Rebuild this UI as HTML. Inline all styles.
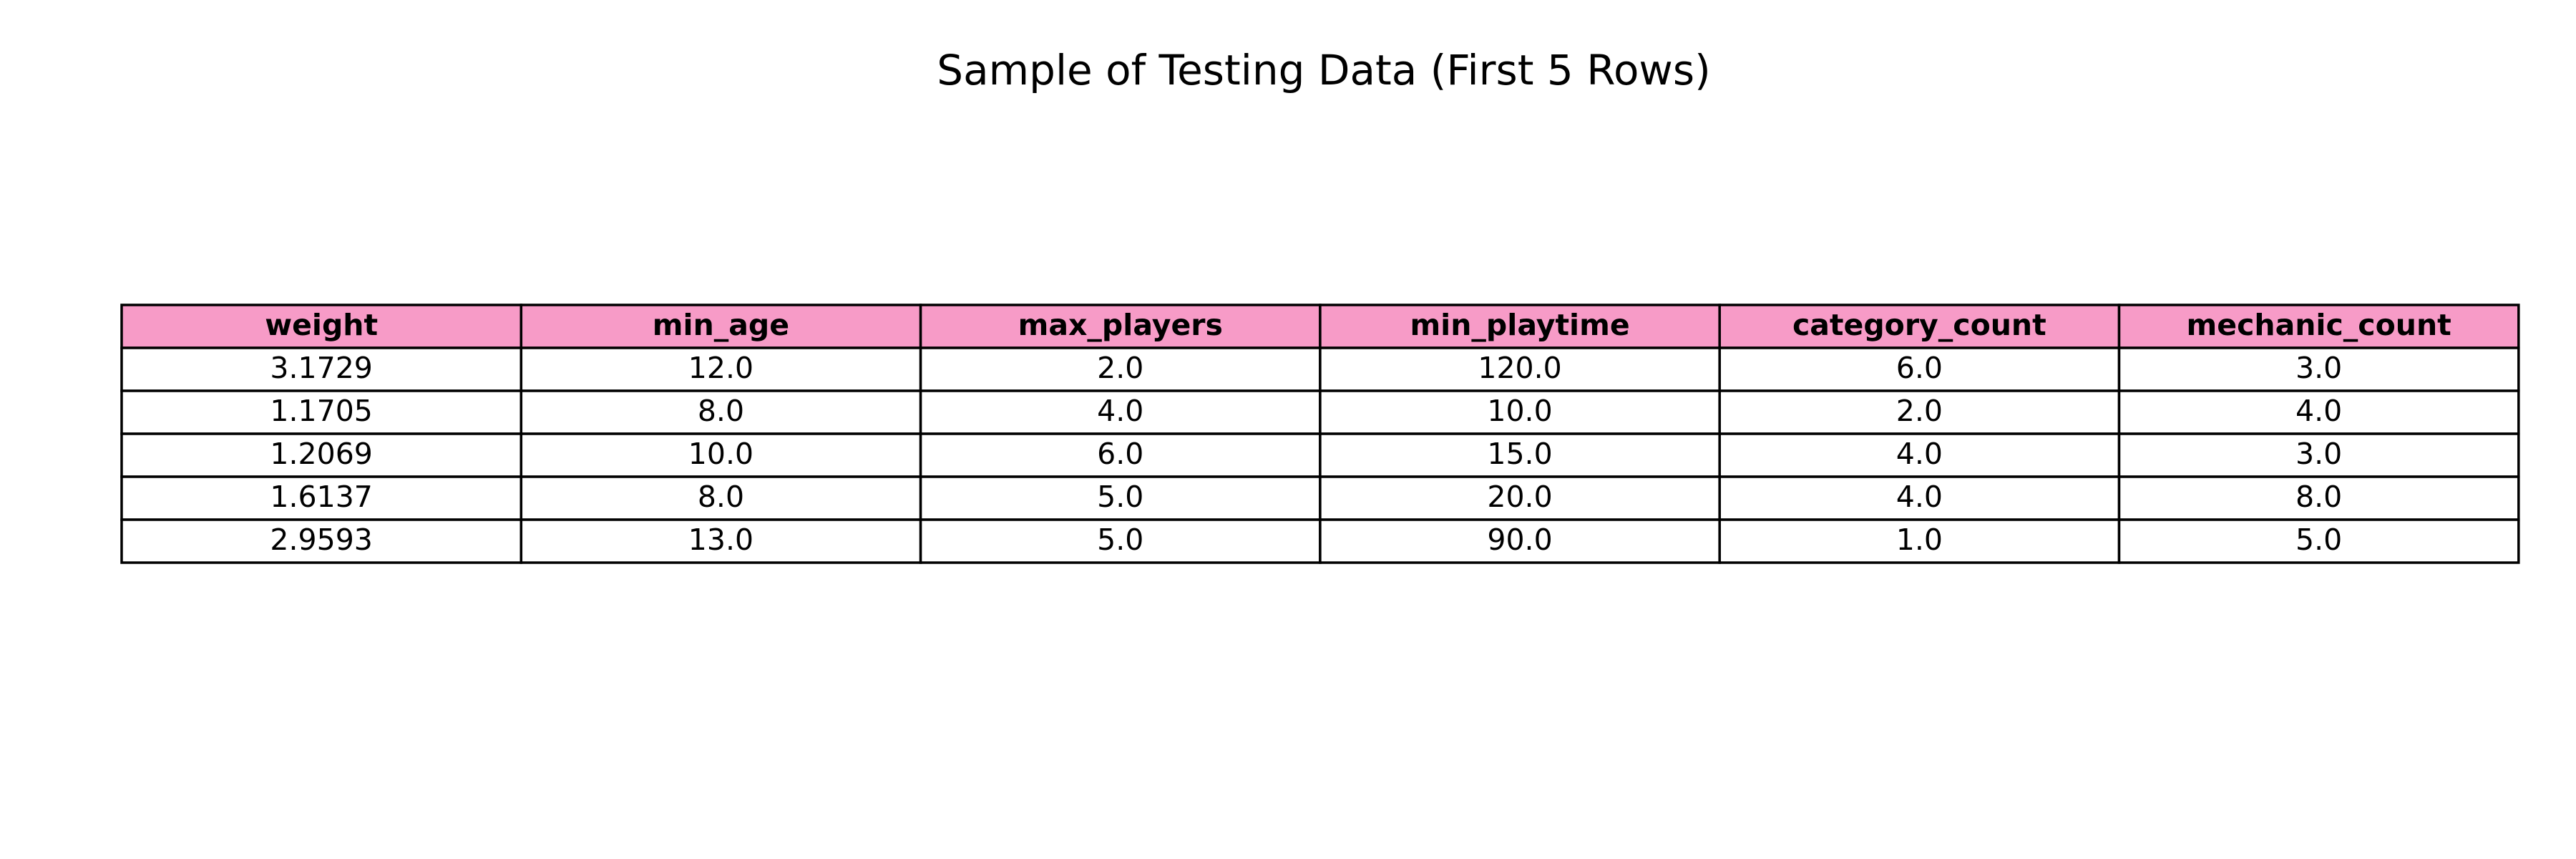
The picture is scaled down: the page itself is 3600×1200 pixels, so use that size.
<!DOCTYPE html>
<html><head><meta charset="utf-8"><style>
html,body{margin:0;padding:0;background:#fff;}
svg{display:block;font-family:"DejaVu Sans","Liberation Sans",sans-serif;}
</style></head><body>
<svg id="chart" width="3600" height="1200" viewBox="0 0 3600 1200" xmlns="http://www.w3.org/2000/svg">
<rect width="3600" height="1200" fill="#fff"/>
<text x="1850" y="118" text-anchor="middle" font-size="58" fill="#000">Sample of Testing Data (First 5 Rows)</text>
<g id="tbl"></g>
</svg>
<script>
const columns = ["weight","min_age","max_players","min_playtime","category_count","mechanic_count"];
const row1 = ["3.1729","12.0","2.0","120.0","6.0","3.0"];
const row2 = ["1.1705","8.0","4.0","10.0","2.0","4.0"];
const row3 = ["1.2069","10.0","6.0","15.0","4.0","3.0"];
const row4 = ["1.6137","8.0","5.0","20.0","4.0","8.0"];
const row5 = ["2.9593","13.0","5.0","90.0","1.0","5.0"];
const rows = [row1,row2,row3,row4,row5];

const NS = "http://www.w3.org/2000/svg";
const g = document.getElementById("tbl");
const left = 170, top0 = 426, colW = 558.3, rowH = 60;
function mk(tag, attrs){const e=document.createElementNS(NS,tag);for(const k in attrs)e.setAttribute(k,attrs[k]);return e;}
function cell(ci, ri, txt, header){
  const x = left + ci*colW, y = top0 + ri*rowH;
  const r = mk("rect",{x:x,y:y,width:colW,height:rowH,fill:header?"#f79bc7":"#fff",stroke:"#000","stroke-width":3.5});
  
  
  g.appendChild(r);
  const t = mk("text",{x:x+colW/2,y:y+rowH/2+12,"text-anchor":"middle","font-size":41,"font-weight":header?"bold":"normal",fill:"#000"});
  t.textContent = txt;
  
  
  g.appendChild(t);
}
columns.forEach((c,i)=>cell(i,0,c,true));
rows.forEach((r,ri)=>r.forEach((v,ci)=>cell(ci,ri+1,v,false)));
</script>
</body></html>
